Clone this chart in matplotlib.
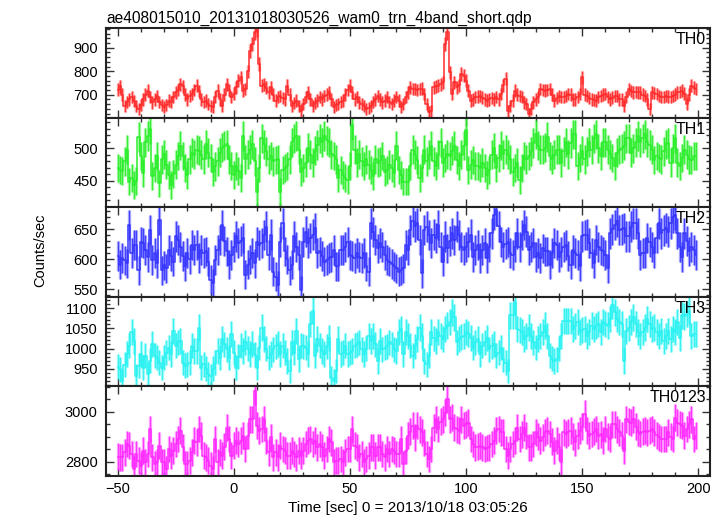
import numpy as np
import matplotlib
matplotlib.use("Agg")
import matplotlib.pyplot as plt
from matplotlib.ticker import MultipleLocator

plt.rcParams['font.family'] = ['Liberation Sans', 'DejaVu Sans']

# ---- data (1 s bins, counts/sec) ----
time = np.arange(-50, 200)

th0 = [
    722, 735, 700, 653, 670, 680, 690, 672, 650, 640,
    655, 680, 700, 717, 690, 667, 680, 695, 670, 655,
    646, 655, 675, 670, 690, 710, 720, 745, 735, 700,
    680, 695, 703, 720, 738, 715, 680, 670, 675, 660,
    650, 646, 690, 717, 680, 653, 700, 745, 720, 689,
    705, 731, 760, 774, 717, 724, 800, 887, 915, 965,
    975, 830, 738, 745, 730, 710, 731, 700, 675, 690,
    695, 685, 680, 738, 700, 653, 665, 675, 650, 632,
    660, 690, 710, 680, 653, 665, 675, 690, 680, 695,
    700, 710, 680, 646, 655, 660, 668, 675, 700, 720,
    738, 710, 680, 690, 667, 660, 650, 639, 645, 653,
    670, 680, 695, 680, 667, 675, 689, 670, 660, 675,
    690, 675, 646, 660, 689, 710, 731, 725, 724, 720,
    724, 726, 703, 660, 625, 632, 731, 735, 738, 745,
    752, 916, 966, 795, 703, 752, 731, 740, 788, 781,
    760, 717, 675, 680, 689, 692, 695, 688, 680, 675,
    680, 685, 680, 690, 680, 703, 740, 767, 632, 650,
    675, 717, 700, 695, 690, 667, 660, 618, 640, 667,
    680, 689, 724, 720, 717, 720, 724, 700, 675, 685,
    695, 690, 689, 695, 703, 700, 680, 680, 690, 703,
    774, 700, 695, 685, 680, 678, 675, 690, 695, 700,
    703, 690, 680, 688, 695, 695, 680, 680, 653, 690,
    724, 715, 710, 712, 710, 710, 700, 695, 680, 639,
    710, 708, 703, 695, 689, 690, 695, 692, 689, 695,
    700, 710, 712, 717, 705, 660, 700, 738, 730, 724,
]

th1 = [
    470, 467, 465, 480, 498, 449, 454, 444, 450, 517,
    488, 462, 509, 519, 530, 457, 470, 488, 446, 483,
    491, 475, 459, 444, 460, 475, 488, 504, 488, 470,
    459, 483, 493, 490, 498, 496, 490, 483, 506, 493,
    485, 464, 472, 480, 493, 501, 504, 506, 483, 473,
    459, 473, 465, 454, 519, 483, 491, 498, 506, 480,
    433, 470, 515, 506, 495, 483, 488, 480, 482, 483,
    433, 467, 470, 473, 483, 509, 515, 519, 498, 464,
    470, 478, 501, 490, 478, 496, 505, 515, 509, 519,
    512, 509, 491, 488, 483, 454, 467, 459, 455, 451,
    473, 535, 498, 478, 491, 480, 473, 483, 475, 467,
    457, 483, 478, 480, 488, 464, 467, 475, 470, 462,
    504, 467, 459, 449, 449, 449, 473, 498, 490, 482,
    454, 470, 498, 480, 490, 504, 480, 473, 490, 509,
    478, 485, 491, 488, 496, 504, 482, 473, 490, 504,
    528, 467, 475, 482, 473, 473, 470, 478, 470, 459,
    467, 490, 501, 470, 485, 504, 491, 498, 490, 483,
    464, 470, 478, 451, 470, 488, 483, 488, 495, 508,
    521, 504, 498, 498, 501, 517, 488, 483, 490, 498,
    498, 478, 495, 509, 491, 508, 521, 521, 473, 485,
    496, 483, 495, 509, 498, 515, 521, 500, 488, 509,
    509, 498, 491, 485, 473, 493, 498, 500, 504, 515,
    515, 493, 500, 509, 519, 509, 515, 521, 509, 505,
    498, 482, 488, 485, 483, 495, 506, 508, 478, 500,
    515, 478, 473, 485, 498, 490, 483, 482, 488, 488,
]

th2 = [
    605, 591, 602, 598, 593, 657, 610, 624, 624, 582,
    629, 627, 615, 604, 649, 599, 610, 593, 666, 582,
    590, 585, 616, 605, 596, 638, 632, 621, 605, 588,
    610, 600, 624, 616, 624, 602, 616, 610, 613, 596,
    566, 560, 599, 615, 632, 657, 630, 613, 591, 607,
    620, 638, 627, 630, 635, 574, 591, 600, 610, 593,
    629, 624, 627, 640, 654, 607, 641, 579, 571, 557,
    629, 660, 613, 600, 582, 591, 638, 620, 607, 549,
    629, 646, 627, 635, 641, 652, 610, 613, 605, 596,
    599, 602, 604, 616, 588, 588, 616, 616, 620, 629,
    607, 605, 602, 610, 604, 602, 610, 588, 579, 660,
    645, 632, 618, 627, 621, 607, 599, 596, 592, 588,
    585, 579, 582, 585, 624, 616, 649, 663, 655, 660,
    632, 577, 649, 654, 640, 627, 641, 635, 657, 620,
    596, 638, 618, 630, 643, 632, 654, 640, 621, 616,
    620, 629, 641, 604, 615, 624, 602, 615, 627, 602,
    620, 643, 674, 682, 655, 629, 621, 625, 629, 610,
    607, 620, 643, 621, 640, 657, 646, 616, 620, 627,
    604, 610, 602, 618, 613, 613, 591, 610, 627, 624,
    604, 612, 621, 624, 605, 591, 616, 610, 607, 588,
    638, 640, 641, 627, 610, 593, 632, 620, 616, 613,
    607, 585, 643, 650, 657, 663, 649, 650, 652, 638,
    638, 654, 660, 660, 643, 607, 610, 610, 635, 628,
    621, 610, 635, 660, 643, 648, 652, 646, 660, 670,
    674, 643, 620, 604, 643, 630, 613, 621, 615, 607,
]

th3 = [
    955, 948, 919, 960, 986, 1007, 1040, 1019, 932, 957,
    986, 952, 982, 936, 970, 1011, 982, 977, 965, 952,
    977, 990, 1002, 986, 1044, 1007, 1015, 1019, 965, 957,
    960, 965, 1007, 994, 994, 1052, 952, 961, 950, 936,
    932, 950, 965, 994, 977, 1023, 1010, 998, 977, 1036,
    990, 952, 980, 1007, 994, 1015, 1000, 986, 1011, 985,
    952, 1002, 1052, 1023, 1000, 977, 986, 998, 1005, 1011,
    986, 1007, 990, 969, 944, 1015, 990, 1044, 973, 1007,
    1005, 1002, 986, 1061, 1094, 982, 1023, 1007, 994, 986,
    1005, 1027, 927, 919, 944, 1023, 986, 990, 1007, 986,
    990, 994, 1007, 1010, 1015, 998, 986, 1000, 1032, 1019,
    1032, 1010, 969, 1019, 998, 1002, 1005, 1015, 1010, 998,
    994, 1040, 1048, 986, 1040, 1030, 1007, 982, 1005, 1023,
    1052, 1030, 969, 961, 982, 1040, 1025, 1019, 1040, 1030,
    1023, 1048, 1057, 1065, 1090, 1077, 1015, 1023, 1028, 1032,
    1040, 1035, 1027, 1002, 1015, 1023, 986, 1007, 1015, 1027,
    998, 1005, 1011, 982, 990, 1002, 973, 965, 944, 1082,
    1082, 1115, 1048, 1045, 1040, 1023, 1030, 1052, 1032, 1015,
    1002, 1023, 1030, 1040, 1057, 1032, 982, 975, 969, 973,
    1000, 1032, 1069, 1069, 1069, 1069, 1048, 1055, 1065, 1040,
    1045, 1048, 1032, 1040, 1057, 1048, 1055, 1061, 1040, 1065,
    1060, 1057, 1073, 1107, 1090, 1073, 1065, 1061, 969, 1044,
    1050, 1065, 1077, 1060, 1040, 1032, 1040, 1052, 1073, 1060,
    1048, 1052, 1040, 1032, 1044, 1019, 1030, 1044, 1023, 1048,
    1040, 1065, 1027, 1082, 1080, 1086, 1094, 1032, 1036, 1036,
]

th0123 = [
    2820, 2817, 2817, 2837, 2871, 2864, 2831, 2771, 2831, 2804,
    2784, 2844, 2797, 2831, 2931, 2817, 2791, 2797, 2864, 2797,
    2797, 2771, 2851, 2824, 2844, 2871, 2891, 2924, 2857, 2791,
    2791, 2804, 2837, 2884, 2877, 2931, 2904, 2824, 2817, 2804,
    2784, 2771, 2891, 2797, 2837, 2824, 2860, 2937, 2891, 2824,
    2864, 2884, 2871, 2884, 2904, 2851, 2904, 2971, 2971, 3084,
    2944, 2924, 2931, 2971, 2884, 2837, 2897, 2817, 2837, 2817,
    2864, 2851, 2844, 2824, 2824, 2844, 2830, 2817, 2844, 2824,
    2844, 2871, 2884, 2891, 2871, 2884, 2857, 2871, 2857, 2824,
    2850, 2891, 2877, 2797, 2804, 2804, 2811, 2797, 2837, 2851,
    2851, 2931, 2864, 2857, 2817, 2831, 2797, 2810, 2824, 2857,
    2857, 2824, 2857, 2857, 2831, 2817, 2851, 2831, 2851, 2844,
    2831, 2831, 2891, 2791, 2844, 2904, 2920, 2944, 2897, 2944,
    2930, 2917, 2877, 2831, 2811, 2850, 2937, 2971, 2931, 2960,
    2971, 2997, 3051, 2971, 2977, 2937, 2930, 2924, 2971, 2944,
    2950, 2957, 2891, 2871, 2857, 2860, 2864, 2857, 2851, 2855,
    2857, 2870, 2884, 2924, 2931, 2917, 2917, 2851, 2824, 2850,
    2871, 2884, 2937, 2891, 2910, 2937, 2904, 2857, 2857, 2870,
    2917, 2900, 2884, 2897, 2917, 2924, 2911, 2880, 2844, 2884,
    2860, 2797, 2917, 2910, 2917, 2924, 2900, 2877, 2904, 2924,
    2940, 2991, 2924, 2904, 2911, 2920, 2931, 2904, 2910, 2884,
    2931, 2900, 2891, 2951, 2951, 2930, 2917, 2904, 2844, 2971,
    2960, 2957, 2971, 2940, 2917, 2911, 2920, 2924, 2917, 2925,
    2931, 2917, 2905, 2897, 2891, 2891, 2891, 2917, 2900, 2891,
    2977, 2957, 2950, 2944, 2904, 2931, 2950, 2971, 2891, 2904,
]

labels = ["TH0", "TH1", "TH2", "TH3", "TH0123"]
colors = ["#ff2a2a", "#2aee2a", "#3535ff", "#2af2f2", "#ff2aff"]
ylims = [(603, 984), (410, 547), (538, 687), (907, 1129), (2744, 3104)]
majors = [100, 50, 50, 50, 200]
minors = [20, 10, 10, 10, 50]
series = [th0, th1, th2, th3, th0123]

fig = plt.figure(figsize=(7.26, 5.16), dpi=100)
left, right = 106 / 726, 710 / 726
top, bottom = 1 - 28 / 516, 1 - 475.5 / 516
gs = fig.add_gridspec(5, 1, left=left, right=right, top=top, bottom=bottom, hspace=0)

axes = []
for i in range(5):
    ax = fig.add_subplot(gs[i])
    axes.append(ax)
    v = np.asarray(series[i], float)
    err = np.sqrt(v)
    c = colors[i]
    ax.errorbar(time, v, yerr=err, fmt='none', ecolor=c, elinewidth=2.4,
                alpha=0.45, capsize=0)
    ax.errorbar(time, v, yerr=err, fmt='none', ecolor=c,
                elinewidth=0.7, alpha=0.9, capsize=0)
    ax.step(time, v, where='mid', color=c, lw=1.1)
    ax.set_xlim(-55, 205)
    ax.set_ylim(*ylims[i])
    ax.xaxis.set_major_locator(MultipleLocator(50))
    ax.xaxis.set_minor_locator(MultipleLocator(10))
    ax.yaxis.set_major_locator(MultipleLocator(majors[i]))
    ax.yaxis.set_minor_locator(MultipleLocator(minors[i]))
    ax.tick_params(which='both', direction='in', top=True, right=True,
                   color='#333333', width=1.0, labelsize=10.5)
    ax.tick_params(which='major', length=6)
    ax.tick_params(which='minor', length=3)
    ax.tick_params(axis='x', pad=5)
    ax.tick_params(axis='y', pad=6)
    for s in ax.spines.values():
        s.set_linewidth(1.5)
        s.set_color('#222222')
        s.set_zorder(5)
    if i < 4:
        ax.tick_params(labelbottom=False)
    ax.text(0.993, 0.955, labels[i], transform=ax.transAxes, ha='right',
            va='top', fontsize=11.5, color='black', zorder=6)

axes[0].set_title("ae408015010_20131018030526_wam0_trn_4band_short.qdp",
                  loc='left', fontsize=11.2, pad=4)
axes[-1].set_xlabel("Time [sec] 0 = 2013/10/18 03:05:26", fontsize=11, labelpad=3)
fig.text(40 / 726, 1 - 250 / 516, "Counts/sec", rotation=90, ha='center',
         va='center', fontsize=10.5)

fig.savefig("out.png", dpi=100)
